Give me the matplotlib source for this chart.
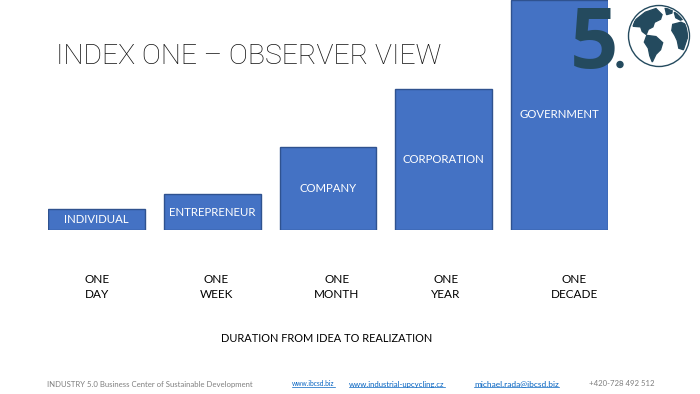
import matplotlib
matplotlib.use("Agg")
import matplotlib.pyplot as plt
from matplotlib.patches import Circle, Polygon
from matplotlib.lines import Line2D

# data (relative bar heights)
roles = ["INDIVIDUAL", "ENTREPRENEUR", "COMPANY", "CORPORATION", "GOVERNMENT"]
heights = [21, 36, 83, 141, 230]
durations = ["ONE\nDAY", "ONE\nWEEK", "ONE\nMONTH", "ONE\nYEAR", "ONE\nDECADE"]
duration_x = [97, 216, 337, 446, 574]  # label centres, px

W, H = 700, 394
BAR = "#4472C4"
EDGE = "#2F528F"
LOGO = "#244A5E"
FONT = "Lato"

plt.rcParams["font.family"] = [FONT, "DejaVu Sans"]

fig = plt.figure(figsize=(W / 100, H / 100), dpi=100)
fig.patch.set_facecolor("white")


def fx(px):
    return px / W


def fy(py):
    return 1 - py / H


# bar axes: x 48..608 px, y 0..230 px
ax = fig.add_axes([fx(48), fy(230), fx(608) - fx(48), 230 / H])
width = 97 / 116
xs = range(len(roles))
ax.bar(xs, heights, width=width, color=BAR, edgecolor=EDGE, linewidth=1.0)
for x, h, r in zip(xs, heights, roles):
    ax.text(x, h / 2, r, ha="center", va="center", color="white", fontsize=8.2)
ax.set_xlim(-width / 2, len(roles) - 1 + width / 2)
ax.set_ylim(0, 230)
ax.axis("off")

# title
fig.text(fx(56), fy(56), "INDEX ONE \u2013 OBSERVER VIEW", fontsize=20.4,
         family=["Roboto", "DejaVu Sans"], fontweight="light", color="#111111",
         ha="left", va="center")

# duration labels
for x, d in zip(duration_x, durations):
    fig.text(fx(x), fy(287), d, ha="center", va="center", fontsize=8.5,
             color="black", linespacing=1.45)

fig.text(fx(327), fy(338), "DURATION FROM IDEA TO REALIZATION", ha="center",
         va="center", fontsize=7.9, color="black")

# footer
fig.text(fx(47), fy(384), "INDUSTRY 5.0 Business Center of Sustainable Development",
         fontsize=5.6, color="#7f7f7f", va="center")
links = []
for x, s, fs in [(292, "www.ibcsd.biz", 4.8), (349, "www.industrial-upcycling.cz", 5.6),
                 (474, "michael.rada@ibcsd.biz", 6.0)]:
    links.append(fig.text(fx(x), fy(384), s, fontsize=fs, color="#0563C1", va="center"))
fig.text(fx(589), fy(384), "+420-728 492 512", fontsize=5.6, color="#7f7f7f", va="center")

# logo overlay in pixel coords
ov = fig.add_axes([0, 0, 1, 1], zorder=5)
ov.set_xlim(0, W)
ov.set_ylim(H, 0)
ov.axis("off")
ov.patch.set_alpha(0)
ov.text(594, 68, "5", fontsize=61, fontweight="bold", color=LOGO, ha="center",
        va="baseline", family="Open Sans")
ov.add_patch(Circle((620, 64.5), 3, color=LOGO))

cx, cy, r = 659, 36, 30.5
ov.add_patch(Circle((cx, cy), r, facecolor="white", edgecolor=LOGO, linewidth=1.0))
clip = Circle((cx, cy), r - 1.5, transform=ov.transData)
lands = [
    [(-0.78, 0.52), (-0.45, 0.78), (-0.1, 0.9), (0.1, 0.7), (0.05, 0.55), (-0.15, 0.45),
     (-0.2, 0.3), (-0.35, 0.22), (-0.42, 0.05), (-0.55, 0.15), (-0.6, 0.3), (-0.85, 0.32)],
    [(-0.4, 0.02), (-0.1, -0.02), (0.12, -0.22), (0.05, -0.45), (-0.1, -0.6),
     (-0.22, -0.85), (-0.3, -0.65), (-0.35, -0.4), (-0.48, -0.2)],
    [(0.45, 0.38), (0.72, 0.45), (0.95, 0.35), (1.0, 0.1), (0.9, -0.15), (0.8, -0.45),
     (0.65, -0.4), (0.6, -0.15), (0.52, 0.02), (0.42, 0.18)],
    [(0.2, 0.92), (0.45, 0.92), (0.42, 0.75), (0.25, 0.7)],
    [(0.5, 0.78), (0.75, 0.72), (0.92, 0.6), (0.7, 0.52), (0.55, 0.6)],
]
for land in lands:
    pts = [(cx + r * x, cy - r * y) for x, y in land]
    p = Polygon(pts, closed=True, color=LOGO)
    ov.add_patch(p)
    p.set_clip_path(clip)

# underline the links
fig.canvas.draw()
rend = fig.canvas.get_renderer()
for t in links:
    bb = t.get_window_extent(rend)
    fig.add_artist(Line2D([bb.x0 / W, bb.x1 / W], [(bb.y0 + 0.5) / H] * 2,
                          color="#0563C1", linewidth=0.5))

fig.savefig("out.png", dpi=100, facecolor="white")
